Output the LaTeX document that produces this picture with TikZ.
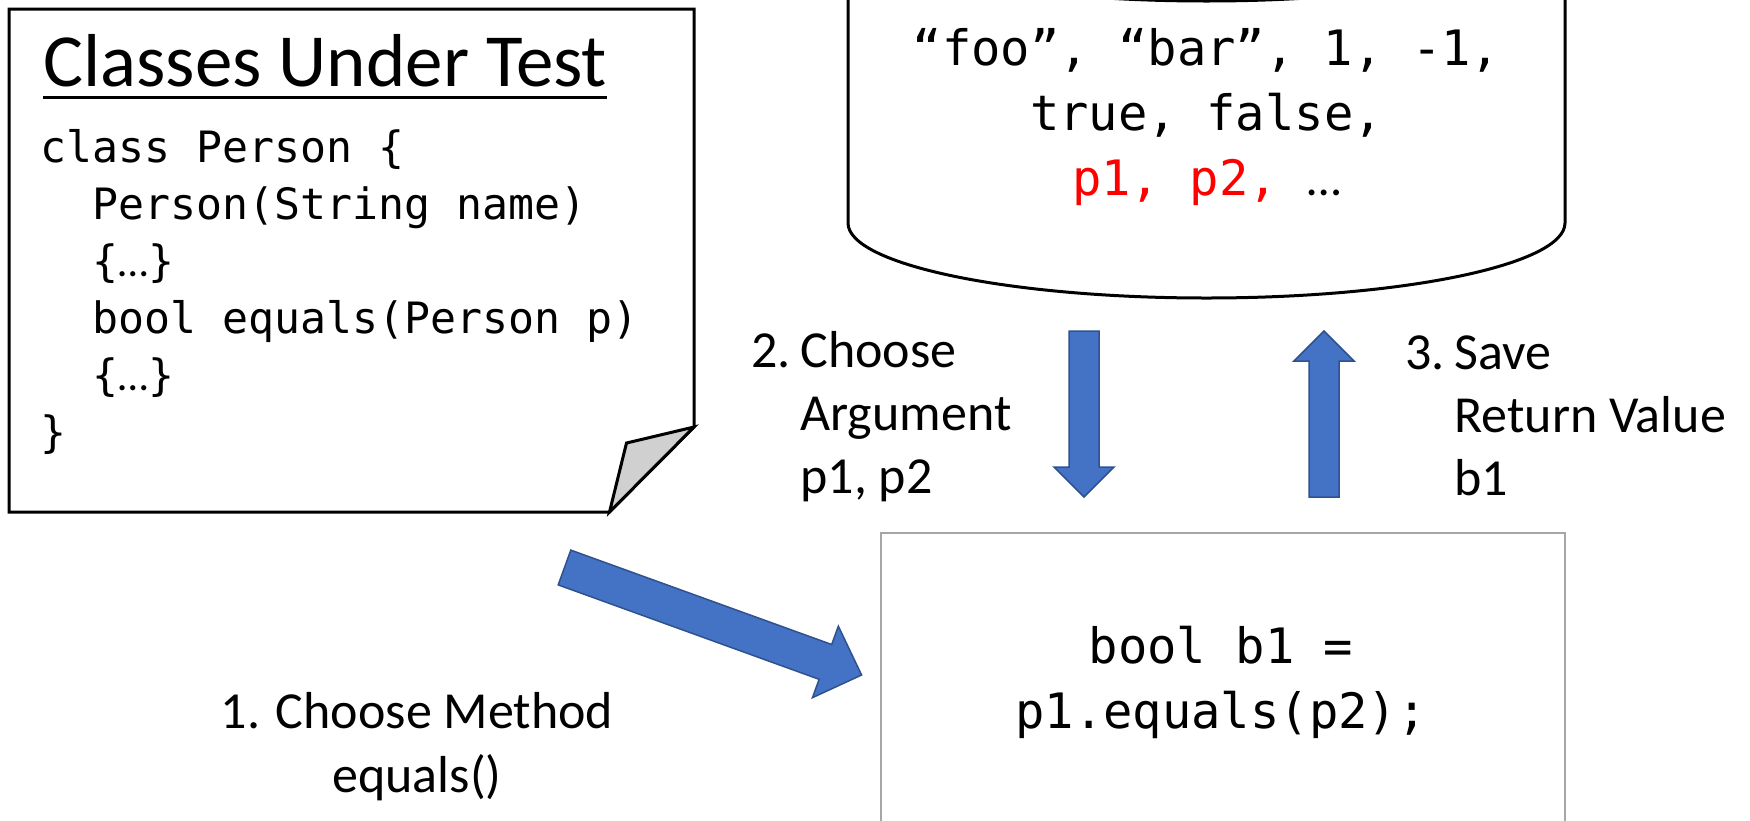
\documentclass[tikz,border=0pt]{standalone}
\usepackage{fontspec}
\setmainfont{Carlito}
\newfontfamily\codefont{DejaVu Sans Mono}
\usetikzlibrary{calc}

\definecolor{arrowfill}{HTML}{4472C4}
\definecolor{arrowedge}{HTML}{2F528F}
\definecolor{boxgray}{HTML}{A6A6A6}
\definecolor{foldgray}{HTML}{D0D0D0}
\definecolor{poolred}{HTML}{FF0000}

% light ellipsis taken from the text face
\newcommand\lightdots{{\rmfamily …}}

% Block arrow from #1 to #2: shaft half-width #3, head half-width #4, head length #5
\newcommand\blockarrow[5]{%
  \coordinate (#1-hb) at ($(#2)!#5!(#1)$);
  \filldraw[blockarrow]
    ($(#1)!#3!90:(#2)$) -- ($(#1)!#3!-90:(#2)$)
    -- ($(#1-hb)!#3!-90:(#2)$) -- ($(#1-hb)!#4!-90:(#2)$)
    -- (#2)
    -- ($(#1-hb)!#4!90:(#2)$) -- ($(#1-hb)!#3!90:(#2)$) -- cycle;}

\begin{document}
\begin{tikzpicture}[x=0.5pt,y=-0.5pt,
  outline/.style={line width=1.5pt, line join=miter},
  blockarrow/.style={fill=arrowfill, draw=arrowedge, line width=0.75pt, line join=miter},
  heading/.style={inner sep=0pt, font=\fontsize{37.5pt}{44pt}\selectfont},
  listing/.style={inner sep=0pt, align=left, font=\codefont\fontsize{21.6pt}{28.5pt}\selectfont},
  values/.style={inner sep=0pt, align=center, font=\codefont\fontsize{24.4pt}{32.5pt}\selectfont},
  steplabel/.style={inner sep=0pt, align=left, font=\fontsize{26pt}{31.5pt}\selectfont},
  methodlabel/.style={inner sep=0pt, align=center, font=\fontsize{26pt}{32pt}\selectfont},
  callbox/.style={draw=boxgray, line width=1.2pt, inner sep=0pt,
    minimum width=342pt, minimum height=150pt}]

\useasboundingbox (0,0) rectangle (1750,820);
\clip (0,0) rectangle (1750,820);
\fill[white] (0,0) rectangle (1750,820);

% sheet with the classes under test, lower right corner folded
\draw[outline, fill=white] (9,9) -- (694,9) -- (694,427) -- (609.5,512) -- (9,512) -- cycle;
\draw[outline, fill=foldgray] (694,427) -- (626.5,443) -- (609.5,512) -- cycle;

\node[heading, anchor=base west] (heading) at (43,86) {Classes Under Test};
\draw[line width=1.5pt] ([yshift=-5.5pt]heading.base west) -- ([yshift=-5.5pt]heading.base east);

% multi-line nodes are placed by the baseline of their last line
\node[listing, anchor=base west] (listing) at (40,447)
  {class Person \{\\
   \phantom{xx}Person(String name)\\
   \phantom{xx}\{\lightdots\}\\
   \phantom{xx}bool equals(Person p)\\
   \phantom{xx}\{\lightdots\}\\
   \}};

% value pool drawn as a cylinder, its top running off the page
\draw[outline] (1206.5,-74) ellipse [x radius=358.5, y radius=75];
\draw[outline] (848,-74) -- (848,223)
  .. controls (848,264.4) and (1008.5,298) .. (1206.5,298)
  .. controls (1404.5,298) and (1565,264.4) .. (1565,223) -- (1565,-74);

\node[values, anchor=base] (pool) at (1206.5,195)
  {“foo”, “bar”, 1, -1,\\
   true, false,\\
   \textcolor{poolred}{p1, p2,} \lightdots};

% generated call
\node[callbox] (call) at (1223,683) {};
\node[values, anchor=base] (callcode) at (1221,728) {bool b1 =\\p1.equals(p2);};

% step labels
\node[steplabel, anchor=base west] (choosearg) at (751,493)
  {\makebox[24.5pt][l]{2.}Choose\\
   \hspace*{24.5pt}Argument\\
   \hspace*{24.5pt}p1, p2};
\node[steplabel, anchor=base west] (saveret) at (1405,495)
  {\makebox[24.5pt][l]{3.}Save\\
   \hspace*{24.5pt}Return Value\\
   \hspace*{24.5pt}b1};
\node[methodlabel, anchor=base] (choosemethod) at (417,792)
  {1. Choose Method\\equals()};

% block arrows
\coordinate (pickTail) at (564.5,567.5);
\coordinate (pickTip) at (861.6,675);
\blockarrow{pickTail}{pickTip}{9.25pt}{19pt}{19.25pt}

\coordinate (argTail) at (1084,331);
\coordinate (argTip) at (1084,497);
\blockarrow{argTail}{argTip}{7.5pt}{15pt}{15pt}

\coordinate (retTail) at (1324,497);
\coordinate (retTip) at (1324,331);
\blockarrow{retTail}{retTip}{7.5pt}{15pt}{15pt}

\end{tikzpicture}
\end{document}
